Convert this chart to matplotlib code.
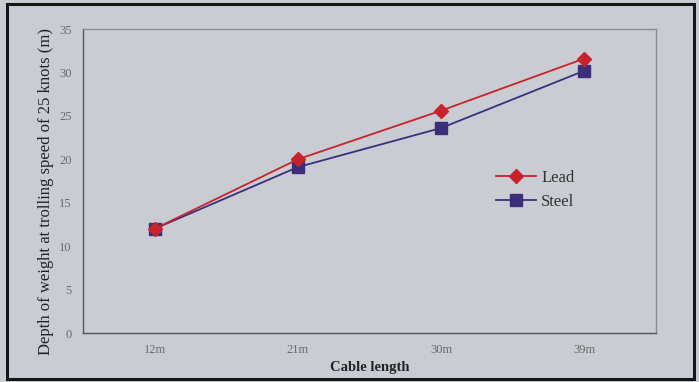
import matplotlib
matplotlib.use("Agg")
import matplotlib.pyplot as plt
from matplotlib.patches import Rectangle

# data
categories = ["12m", "21m", "30m", "39m"]
lead = [12.0, 20.0, 25.6, 31.6]
steel = [12.0, 19.1, 23.6, 30.2]
yticks = [0, 5, 10, 15, 20, 25, 30, 35]

bg = "#c9cdd3"
plt.rcParams["font.family"] = ["Liberation Serif", "DejaVu Serif"]

fig = plt.figure(figsize=(6.99, 3.82), dpi=100, facecolor=bg)

# black frame round the whole chart
fig.patches.append(Rectangle((7 / 699, 3 / 382), 687 / 699, 375 / 382,
                             transform=fig.transFigure, fill=False,
                             edgecolor="#151515", linewidth=2.2))

ax = fig.add_axes([83 / 699, 49 / 382, 573 / 699, 304 / 382], facecolor=bg)

x = list(range(len(categories)))
ax.plot(x, lead, color="#c8232b", lw=1.3, marker="D", ms=7.5,
        markeredgecolor="#c8232b", label="Lead")
ax.plot(x, steel, color="#3b2f7c", lw=1.3, marker="s", ms=8.5,
        markeredgecolor="#3b2f7c", label="Steel", zorder=1)

ax.set_xlim(-0.5, len(categories) - 0.5)
ax.set_ylim(0, 35)
ax.set_xticks(x)
ax.set_xticklabels(categories)
ax.set_yticks(yticks)
ax.tick_params(length=0, labelsize=9, labelcolor="#6a6a6a", pad=8)

ax.spines["left"].set_color("#555555")
ax.spines["bottom"].set_color("#555555")
ax.spines["top"].set_color("#8a8d92")
ax.spines["right"].set_color("#8a8d92")
for s in ax.spines.values():
    s.set_linewidth(1.0)

ax.set_ylabel("Depth of weight at trolling speed of 25 knots (m)",
              fontsize=12, color="#222222")
ax.yaxis.set_label_coords(-0.051, 0.467)
ax.set_xlabel("Cable length", fontsize=10.5, fontweight="bold",
              color="#222222")
ax.xaxis.set_label_coords(0.5, -0.092)

leg = ax.legend(loc="upper left", bbox_to_anchor=(0.695, 0.585), frameon=False,
                fontsize=12, handlelength=2.4, labelspacing=0.45,
                handletextpad=0.3, labelcolor="#333333")

fig.savefig("out.png", dpi=100, facecolor=bg)
